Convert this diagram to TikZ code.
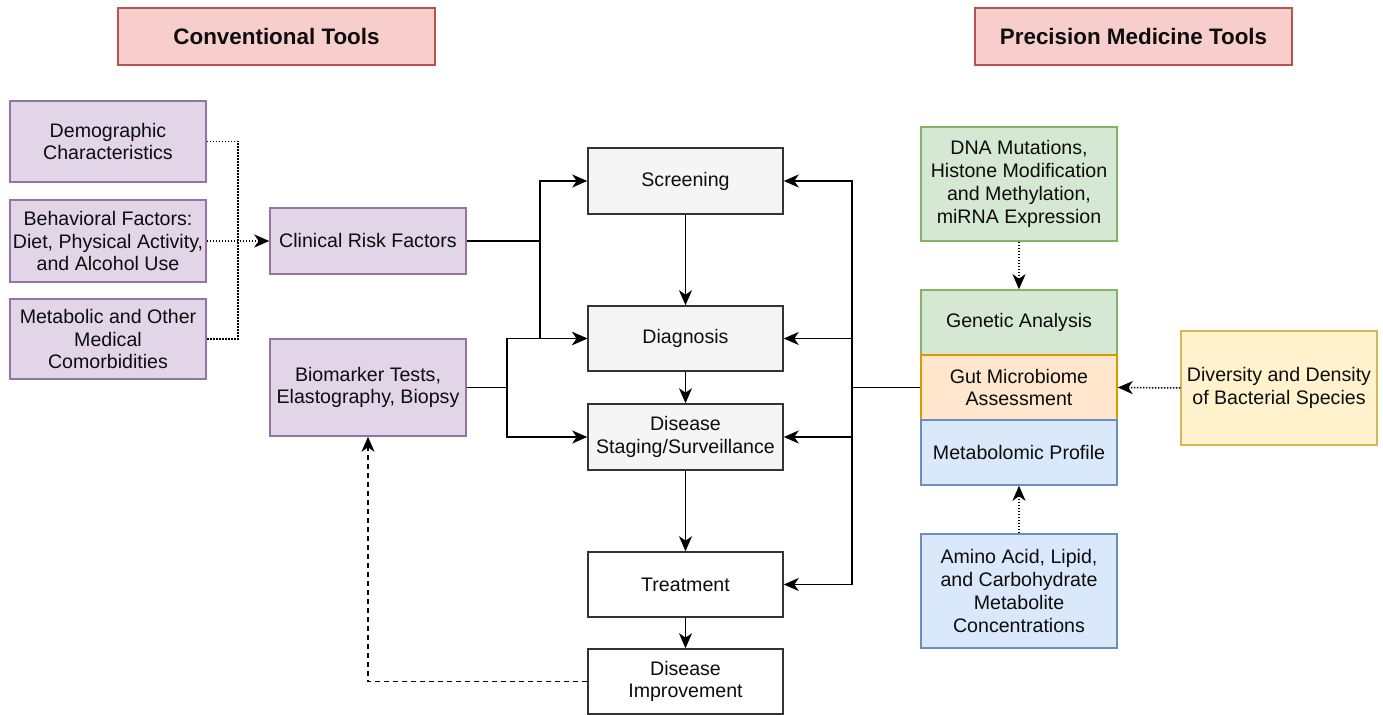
\documentclass[tikz,border=0pt]{standalone}
\usepackage{fontspec}
\setmainfont{Liberation Sans}
\usetikzlibrary{arrows.meta}
\definecolor{txt}{HTML}{0D0D0D}
\definecolor{pinkF}{HTML}{F8CECC}\definecolor{pinkD}{HTML}{B85450}
\definecolor{purF}{HTML}{E1D5E7}\definecolor{purD}{HTML}{9673A6}
\definecolor{grayF}{HTML}{F5F5F5}\definecolor{grayD}{HTML}{333333}
\definecolor{grnF}{HTML}{D5E8D4}\definecolor{grnD}{HTML}{82B366}
\definecolor{orgF}{HTML}{FFE6CC}\definecolor{orgD}{HTML}{D79B00}
\definecolor{bluF}{HTML}{DAE8FC}\definecolor{bluD}{HTML}{6C8EBF}
\definecolor{yelF}{HTML}{FFF2CC}\definecolor{yelD}{HTML}{D6B656}
\tikzset{
  box/.style={draw, line width=0.75pt, align=center, inner sep=0pt, text=txt,
    font=\fontsize{9.8}{11.4}\selectfont, minimum width=98pt},
  titlebox/.style={box, fill=pinkF, draw=pinkD, minimum width=158.5pt, minimum height=28.5pt,
    font=\fontsize{11.2}{13}\selectfont\bfseries},
  purbox/.style={box, fill=purF, draw=purD},
  graybox/.style={box, fill=grayF, draw=grayD, minimum width=97.5pt},
  whitebox/.style={box, fill=white, draw=grayD, minimum width=97.5pt},
  grnbox/.style={box, fill=grnF, draw=grnD},
  orgbox/.style={box, fill=orgF, draw=orgD},
  blubox/.style={box, fill=bluF, draw=bluD},
  yelbox/.style={box, fill=yelF, draw=yelD},
  conn/.style={line width=0.75pt, draw=black},
  arr/.style={conn, -{Stealth[length=7.5pt,width=6.5pt,inset=2.2pt]}},
  dotline/.style={conn, dash pattern=on 0.75pt off 0.75pt},
  dashline/.style={conn, dash pattern=on 2.5pt off 2pt}
}
\begin{document}
\begin{tikzpicture}[x=0.5pt,y=-0.5pt]
\useasboundingbox[fill=white] (0,0) rectangle (1383,715);
% titles
\node[titlebox] (conv) at (276.5,36.5) {Conventional Tools};
\node[titlebox] (prec) at (1133.5,36.5) {Precision Medicine Tools};
% left
\node[purbox, minimum height=40.5pt] (demo) at (108,141.5) {Demographic\\Characteristics};
\node[purbox, minimum height=41pt] (behav) at (108,241) {Behavioral Factors:\\Diet, Physical Activity,\\and Alcohol Use};
\node[purbox, minimum height=40pt] (metab) at (108,339) {Metabolic and Other\\Medical\\Comorbidities};
\node[purbox, minimum height=33pt] (crf) at (368,241) {Clinical Risk Factors};
\node[purbox, minimum height=48.5pt] (bio) at (368,387.5) {Biomarker Tests,\\Elastography, Biopsy};
% center
\node[graybox, minimum height=33pt] (screen) at (685.5,181) {Screening};
\node[graybox, minimum height=32.5pt] (diag) at (685.5,338.5) {Diagnosis};
\node[graybox, minimum height=33pt] (stage) at (685.5,437) {Disease\\Staging/Surveillance};
\node[whitebox, minimum height=32.5pt] (treat) at (685.5,584.5) {Treatment};
\node[whitebox, minimum height=32.5pt] (improve) at (685.5,681.5) {Disease\\Improvement};
% right
\node[grnbox, minimum height=57pt] (dna) at (1019,184) {DNA Mutations,\\Histone Modification\\and Methylation,\\miRNA Expression};
\node[grnbox, minimum height=32.5pt] (gen) at (1019,322.5) {Genetic Analysis};
\node[orgbox, minimum height=32.5pt] (gut) at (1019,387.5) {Gut Microbiome\\Assessment};
\node[blubox, minimum height=32.5pt] (metp) at (1019,452.5) {Metabolomic Profile};
\node[blubox, minimum height=57pt] (amino) at (1019,591) {Amino Acid, Lipid,\\and Carbohydrate\\Metabolite\\Concentrations};
\node[yelbox, minimum height=57pt] (div) at (1279,388) {Diversity and Density\\of Bacterial Species};
% junctions
\coordinate (jA) at (238,241);
\coordinate (jL1) at (540,241);
\coordinate (jL2) at (507,387.5);
\coordinate (jR) at (852,387.5);
% left dotted
\draw[dotline] (demo.east) -| (jA) |- (metab.east);
\draw[dotline, arr] (behav.east) -- (crf.west);
% left solid
\draw[conn] (crf.east) -- (jL1);
\draw[arr] (jL1) |- (screen.west);
\draw[arr] (jL1) |- (diag.west);
\draw[conn] (bio.east) -- (jL2);
\draw[arr] (jL2) |- (diag.west);
\draw[arr] (jL2) |- (stage.west);
% center chain
\draw[arr] (screen.south) -- (diag.north);
\draw[arr] (diag.south) -- (stage.north);
\draw[arr] (stage.south) -- (treat.north);
\draw[arr] (treat.south) -- (improve.north);
% right solid
\draw[conn] (gut.west) -- (jR);
\draw[arr] (jR) |- (screen.east);
\draw[arr] (jR) |- (diag.east);
\draw[arr] (jR) |- (stage.east);
\draw[arr] (jR) |- (treat.east);
% right dotted
\draw[dotline, arr] (dna.south) -- (gen.north);
\draw[dotline, arr] (amino.north) -- (metp.south);
\draw[dotline, arr] (div.west) -- (gut.east);
% feedback
\draw[dashline, arr] (improve.west) -| (bio.south);
\end{tikzpicture}
\end{document}
